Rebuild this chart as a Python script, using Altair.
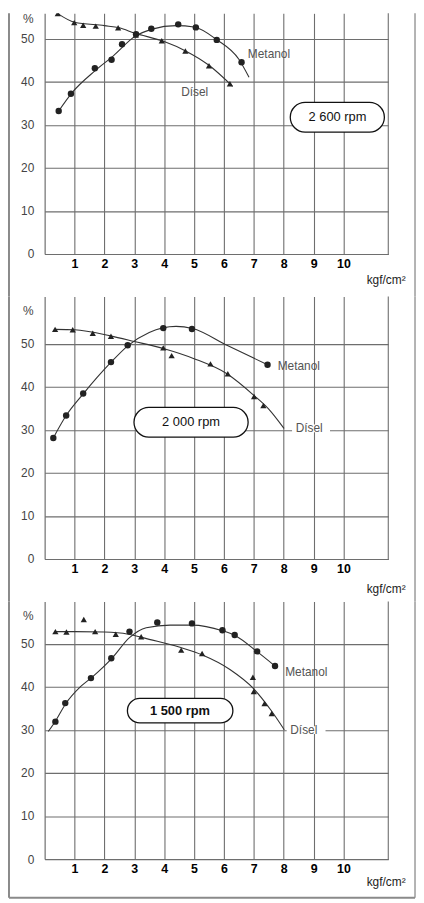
import altair as alt
import pandas as pd

# ---------------- data ----------------
X_TICKS = [1, 2, 3, 4, 5, 6, 7, 8, 9, 10]
Y_TICKS = [0, 10, 20, 30, 40, 50]
RPM_LABELS = ["2 600 rpm", "2 000 rpm", "1 500 rpm"]
SERIES = ["Metanol", "Dísel"]

# 2 600 rpm
p1_diesel_x = [0.44, 0.99, 1.29, 1.71, 2.46, 3.05, 3.92, 4.71, 5.50, 6.20]
p1_diesel_y = [55.8, 53.7, 53.1, 52.9, 52.5, 50.8, 49.5, 47.1, 43.7, 39.5]
p1_metanol_x = [0.47, 0.88, 1.68, 2.24, 2.59, 3.06, 3.57, 4.47, 5.06, 5.76, 6.59]
p1_metanol_y = [33.2, 37.2, 43.1, 45.1, 48.7, 51.0, 52.3, 53.3, 52.6, 49.7, 44.5]
p1_diesel_curve_x = [0.44, 1.0, 2.0, 2.5, 3.0, 4.0, 4.7, 5.5, 6.29]
p1_diesel_curve_y = [55.8, 53.8, 53.0, 52.5, 51.3, 49.3, 47.2, 43.8, 38.9]
p1_metanol_curve_x = [0.47, 0.9, 1.7, 2.3, 3.0, 3.6, 4.4, 5.0, 5.75, 6.5, 6.84]
p1_metanol_curve_y = [33.2, 37.3, 42.6, 46.0, 50.4, 52.2, 53.0, 52.7, 49.8, 45.2, 41.0]

# 2 000 rpm
p2_diesel_x = [0.35, 0.94, 1.61, 2.22, 3.97, 4.25, 5.55, 6.13, 7.01, 7.32]
p2_diesel_y = [53.3, 53.2, 52.4, 51.7, 49.0, 47.2, 45.3, 43.0, 37.7, 35.6]
p2_metanol_x = [0.29, 0.72, 1.29, 2.22, 2.78, 3.97, 4.93, 7.46]
p2_metanol_y = [28.1, 33.3, 38.4, 45.7, 49.6, 53.6, 53.4, 45.1]
p2_diesel_curve_x = [0.35, 1.0, 2.2, 3.0, 4.0, 5.0, 6.1, 7.0, 7.5, 8.01]
p2_diesel_curve_y = [53.3, 53.2, 51.8, 50.5, 48.8, 46.5, 43.0, 38.0, 34.8, 30.3]
p2_metanol_curve_x = [0.29, 0.72, 1.3, 2.2, 2.8, 3.5, 4.4, 4.95, 6.1, 7.46]
p2_metanol_curve_y = [28.1, 33.3, 38.4, 45.5, 49.6, 52.6, 54.0, 53.5, 49.6, 45.1]

# 1 500 rpm
p3_diesel_x = [0.36, 0.73, 1.31, 1.69, 2.38, 3.23, 4.57, 5.27, 6.97, 7.00, 7.36, 7.60]
p3_diesel_y = [52.8, 52.7, 55.6, 52.8, 52.2, 51.6, 48.5, 47.7, 42.2, 38.9, 36.1, 33.8]
p3_metanol_x = [0.36, 0.69, 1.55, 2.23, 2.84, 3.77, 4.93, 5.95, 6.36, 7.11, 7.71]
p3_metanol_y = [31.9, 36.2, 42.0, 46.6, 52.8, 54.9, 54.7, 53.1, 52.0, 48.2, 44.8]
p3_diesel_curve_x = [0.36, 1.0, 2.0, 2.8, 3.5, 4.5, 5.3, 6.2, 7.0, 7.6, 8.02]
p3_diesel_curve_y = [52.8, 52.8, 52.7, 52.2, 51.0, 49.2, 47.3, 44.0, 39.5, 34.3, 30.0]
p3_metanol_curve_x = [0.12, 0.36, 0.7, 1.2, 1.6, 2.25, 2.84, 3.4, 4.2, 4.93, 5.95, 6.4, 7.1, 7.71]
p3_metanol_curve_y = [29.6, 32.0, 36.0, 40.0, 42.3, 46.6, 51.4, 53.7, 54.3, 54.3, 53.0, 51.8, 48.2, 44.8]

PANEL_DATA = [
    (p1_diesel_x, p1_diesel_y, p1_metanol_x, p1_metanol_y,
     p1_diesel_curve_x, p1_diesel_curve_y, p1_metanol_curve_x, p1_metanol_curve_y),
    (p2_diesel_x, p2_diesel_y, p2_metanol_x, p2_metanol_y,
     p2_diesel_curve_x, p2_diesel_curve_y, p2_metanol_curve_x, p2_metanol_curve_y),
    (p3_diesel_x, p3_diesel_y, p3_metanol_x, p3_metanol_y,
     p3_diesel_curve_x, p3_diesel_curve_y, p3_metanol_curve_x, p3_metanol_curve_y),
]

# ---------------- layout / annotation placement ----------------
W = 347
HEIGHTS = [243, 265, 260]
SPACING = 43
PX_PER_UNIT = 4.35
X_MAX = 11.5
TITLE_Y = [26, 30, 23]
PCT_Y = [5, 14, 14]
FRAME_BOTTOM = 39

ANNOT = [
    dict(box=(8.22, 11.37, 28.3, 35.2), txt=(9.80, 31.75), bold=False,
         met=(6.80, 46.4), dis=(4.57, 37.7), dis_bg=None),
    dict(box=(2.99, 6.81, 28.3, 35.2), txt=(4.90, 31.75), bold=False,
         met=(7.80, 44.8), dis=(8.40, 30.3), dis_bg=(8.28, 9.55, 29.4, 31.2)),
    dict(box=(2.77, 6.30, 31.6, 37.3), txt=(4.53, 34.45), bold=True,
         met=(8.05, 43.4), dis=(8.22, 29.9), dis_bg=(8.10, 9.40, 29.0, 30.8)),
]

GRID = "#6e6e6e"
INK = "#222222"
FONT = "Liberation Sans"


def make_panel(i):
    H = HEIGHTS[i]
    a = ANNOT[i]
    dx, dy, mx, my, dcx, dcy, mcx, mcy = PANEL_DATA[i]
    xs = alt.Scale(domain=[0, X_MAX], nice=False, zero=False)
    ys = alt.Scale(domain=[0, H / PX_PER_UNIT], nice=False, zero=False)
    xax = alt.Axis(values=X_TICKS, grid=True, ticks=False, domain=True,
                   domainColor=GRID, domainWidth=1.2, gridColor=GRID, gridWidth=1.1,
                   labelFont=FONT, labelFontSize=12.5, labelFontWeight="bold",
                   labelColor="#000000", labelPadding=4, labelFlush=False,
                   title="kgf/cm²", titleFont=FONT, titleFontSize=12,
                   titleFontWeight="normal", titleColor=INK, titleAlign="right",
                   titleBaseline="middle", titleX=364, titleY=TITLE_Y[i], titleAngle=0)
    yax = alt.Axis(values=Y_TICKS, grid=True, ticks=False, domain=True,
                   domainColor=GRID, domainWidth=1.2, gridColor=GRID, gridWidth=1.1,
                   labelFont=FONT, labelFontSize=12, labelColor="#444444",
                   labelPadding=11, labelFlush=False,
                   title="%", titleFont=FONT, titleFontSize=12, titleFontWeight="normal",
                   titleColor="#444444", titleAngle=0, titleAlign="center",
                   titleBaseline="middle", titleX=-17, titleY=PCT_Y[i])

    def X(f):
        return alt.X(f"{f}:Q", scale=xs, axis=xax)

    def Y(f):
        return alt.Y(f"{f}:Q", scale=ys, axis=yax)

    pts = pd.DataFrame({
        "x": list(mx) + list(dx),
        "y": list(my) + list(dy),
        "s": [SERIES[0]] * len(mx) + [SERIES[1]] * len(dx),
    })
    curves = pd.DataFrame({
        "x": list(mcx) + list(dcx),
        "y": list(mcy) + list(dcy),
        "s": [SERIES[0]] * len(mcx) + [SERIES[1]] * len(dcx),
    })

    base_axes = alt.Chart(pd.DataFrame({"x": [X_MAX]})).mark_rule(
        color=GRID, strokeWidth=1.1).encode(x=X("x"))

    lines = alt.Chart(curves).mark_line(
        color="#333333", strokeWidth=1.1, interpolate="monotone", clip=True
    ).encode(x=X("x"), y=Y("y"), detail="s:N")

    circles = alt.Chart(pts[pts.s == SERIES[0]]).mark_circle(
        color=INK, size=42, opacity=1, clip=True).encode(x=X("x"), y=Y("y"))
    tris = alt.Chart(pts[pts.s == SERIES[1]]).mark_point(
        shape="triangle-up", filled=True, color=INK, size=40, opacity=1, clip=True
    ).encode(x=X("x"), y=Y("y"))

    bx0, bx1, by0, by1 = a["box"]
    box_df = pd.DataFrame({"x": [bx0], "x2": [bx1], "y": [by0], "y2": [by1]})
    box = alt.Chart(box_df).mark_rect(
        fill="white", stroke="#111111", strokeWidth=1.3,
        cornerRadius=(by1 - by0) * PX_PER_UNIT / 2
    ).encode(x=X("x"), x2=alt.X2("x2"), y=Y("y"), y2=alt.Y2("y2"))

    rpm_df = pd.DataFrame({"x": [a["txt"][0]], "y": [a["txt"][1]], "t": [RPM_LABELS[i]]})
    rpm = alt.Chart(rpm_df).mark_text(
        font=FONT, fontSize=13, color="#111111",
        fontWeight="bold" if a["bold"] else "normal",
        align="center", baseline="middle"
    ).encode(x=X("x"), y=Y("y"), text="t:N")

    layers = [base_axes, lines, circles, tris, box, rpm]

    if a["dis_bg"] is not None:
        gx0, gx1, gy0, gy1 = a["dis_bg"]
        bg = alt.Chart(pd.DataFrame({"x": [gx0], "x2": [gx1], "y": [gy0], "y2": [gy1]})
                       ).mark_rect(fill="white").encode(
            x=X("x"), x2=alt.X2("x2"), y=Y("y"), y2=alt.Y2("y2"))
        layers.append(bg)

    lab_df = pd.DataFrame({
        "x": [a["met"][0], a["dis"][0]],
        "y": [a["met"][1], a["dis"][1]],
        "t": SERIES,
    })
    labels = alt.Chart(lab_df).mark_text(
        font=FONT, fontSize=12, color="#555555", align="left", baseline="middle"
    ).encode(x=X("x"), y=Y("y"), text="t:N")
    layers.append(labels)

    one = pd.DataFrame({"a": [0]})
    bottom_extent = H + (SPACING if i < 2 else FRAME_BOTTOM)
    left_frame = alt.Chart(one).mark_rule(color="#8a8a8a", strokeWidth=2).encode(
        x=alt.value(-36), y=alt.value(0), y2=alt.value(bottom_extent))
    right_frame = alt.Chart(one).mark_rule(color="#9a9a9a", strokeWidth=1.5).encode(
        x=alt.value(374), y=alt.value(0), y2=alt.value(bottom_extent))
    layers += [left_frame, right_frame]
    if i == 2:
        bottom_frame = alt.Chart(one).mark_rule(color="#8a8a8a", strokeWidth=2).encode(
            x=alt.value(-36), x2=alt.value(374), y=alt.value(H + FRAME_BOTTOM))
        layers.append(bottom_frame)

    return alt.layer(*layers).properties(width=W, height=H)


chart = alt.vconcat(
    make_panel(0), make_panel(1), make_panel(2),
    spacing=SPACING, bounds="flush"
).resolve_scale(x="independent", y="independent").properties(
    padding=0, background="white"
).configure_view(stroke=None)

chart.save("out.html", embed_options={"renderer": "svg", "actions": False})
